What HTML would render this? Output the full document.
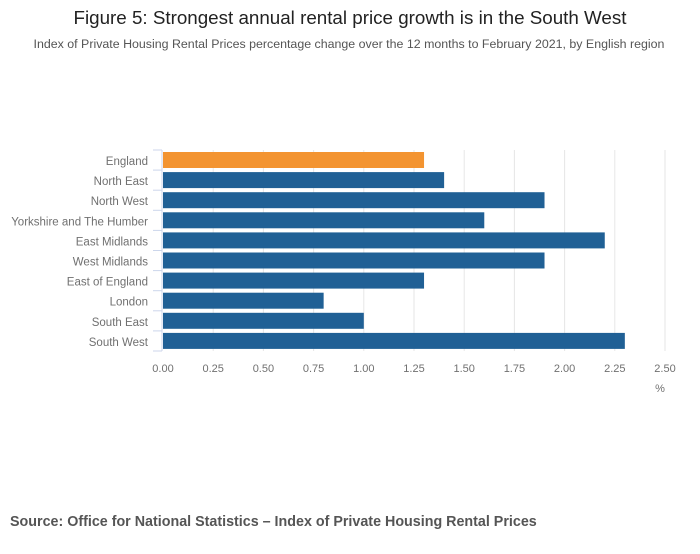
<!DOCTYPE html>
<html><head><meta charset="utf-8"><style>
body{margin:0;background:#fff;font-family:"Liberation Sans",sans-serif;}
svg text{font-family:"Liberation Sans",sans-serif;}
</style></head><body>
<svg width="700" height="549">
<text x="350" y="24" text-anchor="middle" font-size="18.8" fill="#222">Figure 5: Strongest annual rental price growth is in the South West</text>
<text x="349" y="48" text-anchor="middle" font-size="12.4" fill="#555">Index of Private Housing Rental Prices percentage change over the 12 months to February 2021, by English region</text>
<g id="grid"></g><g id="bars"></g><g id="axes"></g>
<text x="660" y="392" text-anchor="middle" font-size="11" fill="#707070">%</text>
<text x="10" y="526" font-size="14.3" font-weight="bold" fill="#555">Source: Office for National Statistics – Index of Private Housing Rental Prices</text>
</svg>
<script>
const categories=["England","North East","North West","Yorkshire and The Humber","East Midlands","West Midlands","East of England","London","South East","South West"];
const values=[1.3,1.4,1.9,1.6,2.2,1.9,1.3,0.8,1.0,2.3];
const ticks=[0,0.25,0.5,0.75,1.0,1.25,1.5,1.75,2.0,2.25,2.5];
const tickLabels=["0.00","0.25","0.50","0.75","1.00","1.25","1.50","1.75","2.00","2.25","2.50"];
const NS="http://www.w3.org/2000/svg";
const x0=163,x1=665,topY=150,band=20.1;
const xs=v=>x0+(x1-x0)*v/2.5;
const yb=i=>topY+i*band;
function mk(t,a,p){const e=document.createElementNS(NS,t);for(const k in a)e.setAttribute(k,a[k]);p.appendChild(e);return e;}
const g=document.getElementById('grid'),b=document.getElementById('bars'),ax=document.getElementById('axes');
ticks.forEach((t,i)=>{
 if(i>0){const l=mk('line',{x1:xs(t),x2:xs(t),y1:topY,y2:topY+band*categories.length,stroke:'#e6e6e6'},g);
 
 }
 const tx=mk('text',{x:xs(t),y:372,'text-anchor':'middle','font-size':11,fill:'#707070'},ax);tx.textContent=tickLabels[i];
 
 
});
categories.forEach((c,i)=>{
 const r=mk('rect',{x:x0,y:yb(i)+2,width:xs(values[i])-x0,height:16,fill:i===0?'#f39431':'#206095'},b);
 
 
 const t=mk('text',{x:148,y:yb(i)+15,'text-anchor':'end','font-size':11.5,fill:'#707070'},ax);t.textContent=c;
 
 
});
for(let i=0;i<=categories.length;i++){const l=mk('line',{x1:153,x2:162,y1:yb(i),y2:yb(i),stroke:'#ccd6eb'},ax);
 
 }
const al=mk('line',{x1:162,x2:162,y1:topY,y2:topY+band*categories.length,stroke:'#ccd6eb'},ax);


</script>
</body></html>
